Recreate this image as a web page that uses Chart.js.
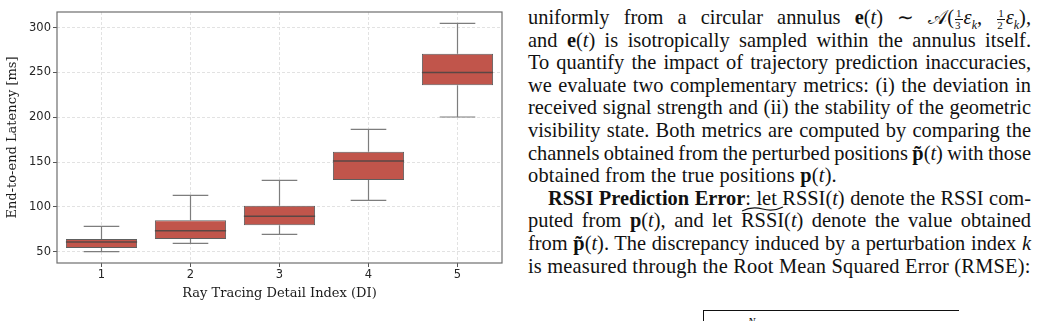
<!DOCTYPE html>
<html>
<head>
<meta charset="utf-8">
<script src="https://cdn.jsdelivr.net/npm/chart.js@4.4.0/dist/chart.umd.min.js"></script>
<style>
  html, body { margin: 0; padding: 0; background: #fff; width: 1037px; height: 321px; overflow: hidden; }
  #wrap { position: absolute; left: 0; top: 0; width: 515px; height: 321px; }
  #text { position: absolute; left: 528px; top: 6px; width: 503px; font-family: "Liberation Serif", serif; font-size: 20.4px; line-height: 22.6px; letter-spacing: 0.2px; color: #111; }
  #text div { height: 22.6px; white-space: nowrap; }
  #text .j { text-align: justify; text-align-last: justify; white-space: normal; word-spacing: -3px; letter-spacing: 0; }
  #text .ind { padding-left: 20px; }
  .fr { display: inline-block; vertical-align: -5px; font-size: 11px; line-height: 11px; text-align: center; margin: 0 1px; }
  .fr > span { display: block; }
  .fr > span:first-child { border-bottom: 0.8px solid #111; padding: 0 1px; }
  .sub { font-size: 12px; }
  .wt { position: relative; }
  .wt svg { position: absolute; left: 0; top: -3px; width: 100%; height: 6px; }
  #eqbox { position: absolute; left: 703px; top: 310px; width: 255px; height: 30px; border-top: 1px solid #111; border-left: 1px solid #111; }
  #eqbox span { position: absolute; left: 44px; top: 4px; font-family: "Liberation Serif", serif; font-style: italic; font-size: 11px; }
</style>
</head>
<body>
<div id="wrap"><canvas id="boxChart" width="515" height="321"></canvas></div>

<div id="text">
  <div class="j">uniformly from a circular annulus <b>e</b>(<i>t</i>) ∼ 𝒜(<span class="fr"><span>1</span><span>3</span></span><i>ε<sub class="sub">k</sub></i>, <span class="fr"><span>1</span><span>2</span></span><i>ε<sub class="sub">k</sub></i>),</div>
  <div class="j">and <b>e</b>(<i>t</i>) is isotropically sampled within the annulus itself.</div>
  <div class="j">To quantify the impact of trajectory prediction inaccuracies,</div>
  <div class="j">we evaluate two complementary metrics: (i) the deviation in</div>
  <div class="j">received signal strength and (ii) the stability of the geometric</div>
  <div class="j">visibility state. Both metrics are computed by comparing the</div>
  <div class="j">channels obtained from the perturbed positions <b>p̃</b>(<i>t</i>) with those</div>
  <div>obtained from the true positions <b>p</b>(<i>t</i>).</div>
  <div class="j ind"><b>RSSI Prediction Error</b>: let RSSI(<i>t</i>) denote the RSSI com-</div>
  <div class="j">puted from <b>p</b>(<i>t</i>), and let <span class="wt">RSSI<svg viewBox="0 0 40 6" preserveAspectRatio="none"><path d="M1 5 Q10 0 20 3 T39 1" fill="none" stroke="#111" stroke-width="1"/></svg></span>(<i>t</i>) denote the value obtained</div>
  <div class="j">from <b>p̃</b>(<i>t</i>). The discrepancy induced by a perturbation index <i>k</i></div>
  <div>is measured through the Root Mean Squared Error (RMSE):</div>
</div>
<div id="eqbox"><span>N</span></div>

<script>
document.addEventListener('DOMContentLoaded', function () {
    // --- Box plot statistics per Detail Index ---
    const categories = ['1', '2', '3', '4', '5'];
    const whiskerLow  = [50.0, 59.4, 69.4, 107.3, 200.3];
    const quartile1   = [54.1, 64.2, 79.5, 130.0, 235.8];
    const medians     = [60.8, 73.4, 89.5, 151.1, 250.0];
    const quartile3   = [64.2, 85.0, 101.3, 161.6, 270.8];
    const whiskerHigh = [78.3, 112.9, 129.7, 186.6, 304.9];
    const yTicks = [50, 100, 150, 200, 250, 300];

    const boxColor = '#c1554b';
    const edgeColor = '#5e5e5e';
    const whiskerColor = '#7d7d7d';

    // whiskers and caps go under the boxes, medians and the frame on top
    const boxExtras = {
        id: 'boxExtras',
        beforeDatasetsDraw(chart) {
            const ctx = chart.ctx;
            const y = chart.scales.y;
            const bars = chart.getDatasetMeta(0).data;
            ctx.save();
            ctx.strokeStyle = whiskerColor;
            ctx.lineWidth = 1.2;
            bars.forEach((bar, i) => {
                const capHalf = bar.width / 4;
                const yLo = y.getPixelForValue(whiskerLow[i]);
                const yHi = y.getPixelForValue(whiskerHigh[i]);
                const yQ1 = y.getPixelForValue(quartile1[i]);
                const yQ3 = y.getPixelForValue(quartile3[i]);
                ctx.beginPath();
                ctx.moveTo(bar.x, yQ3); ctx.lineTo(bar.x, yHi);
                ctx.moveTo(bar.x, yQ1); ctx.lineTo(bar.x, yLo);
                ctx.moveTo(bar.x - capHalf, yHi); ctx.lineTo(bar.x + capHalf, yHi);
                ctx.moveTo(bar.x - capHalf, yLo); ctx.lineTo(bar.x + capHalf, yLo);
                ctx.stroke();
            });
            ctx.restore();
        },
        afterDatasetsDraw(chart) {
            const ctx = chart.ctx;
            const y = chart.scales.y;
            const bars = chart.getDatasetMeta(0).data;
            ctx.save();
            ctx.strokeStyle = '#5a4744';
            ctx.lineWidth = 1.5;
            bars.forEach((bar, i) => {
                const ym = y.getPixelForValue(medians[i]);
                ctx.beginPath();
                ctx.moveTo(bar.x - bar.width / 2, ym);
                ctx.lineTo(bar.x + bar.width / 2, ym);
                ctx.stroke();
            });
            const a = chart.chartArea;
            ctx.strokeStyle = '#6e6e6e';
            ctx.lineWidth = 1.2;
            ctx.strokeRect(a.left, a.top, a.right - a.left, a.bottom - a.top);
            ctx.restore();
        }
    };

    const ctxBox = document.getElementById('boxChart').getContext('2d');
    new Chart(ctxBox, {
        type: 'bar',
        data: {
            labels: categories,
            datasets: [{
                data: quartile1.map((q, i) => [q, quartile3[i]]),
                backgroundColor: boxColor,
                borderColor: edgeColor,
                borderWidth: 1,
                borderSkipped: false,
                barPercentage: 0.8,
                categoryPercentage: 1.0
            }]
        },
        options: {
            responsive: false,
            animation: false,
            devicePixelRatio: 1,
            layout: { padding: { top: 12, right: 13, left: 0, bottom: 0 } },
            plugins: { legend: { display: false }, tooltip: { enabled: false } },
            scales: {
                x: {
                    afterFit: s => { s.height = 58; },
                    grid: {
                        offset: false,
                        color: '#dadada',
                        lineWidth: 0.8,
                        tickLength: 4,
                        tickColor: '#555',
                        tickWidth: 1,
                        tickBorderDash: []
                    },
                    border: { display: false, dash: [3, 2] },
                    ticks: { padding: 1, color: '#262626', font: { family: 'DejaVu Sans', size: 11.5 } },
                    title: {
                        display: true,
                        text: 'Ray Tracing Detail Index (DI)',
                        color: '#1a1a1a',
                        font: { family: 'DejaVu Serif', size: 13 },
                        padding: { top: 0, bottom: 20 }
                    }
                },
                y: {
                    min: 37.4,
                    max: 317.5,
                    afterFit: s => { s.width = 57; },
                    afterBuildTicks: s => { s.ticks = yTicks.map(v => ({ value: v })); },
                    grid: {
                        color: '#dadada',
                        lineWidth: 0.8,
                        tickLength: 4,
                        tickColor: '#555',
                        tickWidth: 1,
                        tickBorderDash: []
                    },
                    border: { display: false, dash: [3, 2] },
                    ticks: { padding: 2, color: '#262626', font: { family: 'DejaVu Sans', size: 11.5 } },
                    title: {
                        display: true,
                        text: 'End-to-end Latency [ms]',
                        color: '#1a1a1a',
                        font: { family: 'DejaVu Serif', size: 13 },
                        padding: { top: 5, bottom: 0 }
                    }
                }
            }
        },
        plugins: [boxExtras]
    });
});
</script>
</body>
</html>
